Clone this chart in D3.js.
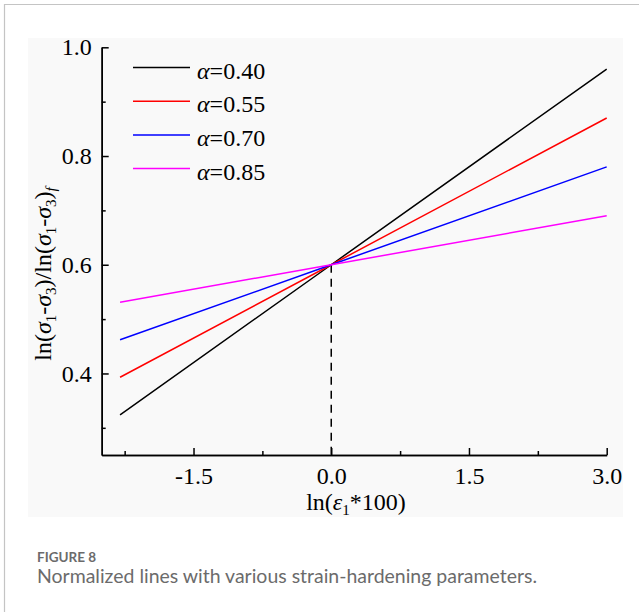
<!DOCTYPE html>
<html>
<head>
<meta charset="utf-8">
<script src="https://cdn.jsdelivr.net/npm/d3@7"></script>
<style>
	body { margin: 0; background: #fff; }
	svg { display: block; }
	.serif, .serif text { font-family: "Liberation Serif", "Times New Roman", serif; }
	.cap { font-family: Lato, "Open Sans", sans-serif; fill: #6b6b6b; }
</style>
</head>
<body>
<div class="canva"></div>
<script>
// values
const alphaLabels = ["0.40", "0.55", "0.70", "0.85"];
const lineColors = ["#000000", "#ff0000", "#0000ff", "#ff00ff"];
const xValues = [-2.3, 0.0, 3.0];
const yAlpha040 = [0.324, 0.6, 0.96];
const yAlpha055 = [0.393, 0.6, 0.87];
const yAlpha070 = [0.462, 0.6, 0.78];
const yAlpha085 = [0.531, 0.6, 0.69];
const xMajorTicks = [-1.5, 0.0, 1.5, 3.0];
const xMinorTicks = [-2.25, -0.75, 0.75, 2.25];
const yMajorTicks = [0.4, 0.6, 0.8, 1.0];
const yMinorTicks = [0.3, 0.5, 0.7, 0.9];

const series = [yAlpha040, yAlpha055, yAlpha070, yAlpha085];

const width = 639;
const height = 612;

const svg = d3
	.select(".canva")
	.append("svg")
	.attr("width", width)
	.attr("height", height);

// page frame + figure panel
svg.append("path")
	.attr("d", "M4.5,612V4.5H639")
	.attr("fill", "none")
	.attr("stroke", "#c4c4c4")
	.attr("stroke-width", 1.2);

svg.append("rect")
	.attr("x", 28)
	.attr("y", 38)
	.attr("width", 595)
	.attr("height", 479)
	.attr("fill", "#f9f9f9");

const x = d3.scaleLinear().domain([-2.5, 3.0]).range([101.7, 606.7]);
const y = d3.scaleLinear().domain([0.25, 1.0]).range([455, 47.3]);

// plain hyphen minus like the original
const fmt = (d) => d3.format(".1f")(d).replace("−", "-");

// axes (ticks point inward)
svg.append("g")
	.attr("class", "serif")
	.attr("transform", `translate(0,${y(0.25)})`)
	.call(d3.axisBottom(x).tickValues(xMajorTicks).tickSize(-7).tickSizeOuter(0).tickPadding(12)
		.tickFormat(fmt));

svg.append("g")
	.attr("transform", `translate(0,${y(0.25)})`)
	.call(d3.axisBottom(x).tickValues(xMinorTicks).tickSize(-4).tickSizeOuter(0).tickFormat(""));

svg.append("g")
	.attr("class", "serif")
	.attr("transform", `translate(${x(-2.5)},0)`)
	.call(d3.axisLeft(y).tickValues(yMajorTicks).tickSize(-7).tickSizeOuter(0).tickPadding(10)
		.tickFormat(fmt));

svg.append("g")
	.attr("transform", `translate(${x(-2.5)},0)`)
	.call(d3.axisLeft(y).tickValues(yMinorTicks).tickSize(-4).tickSizeOuter(0).tickFormat(""));

svg.selectAll(".domain, .tick line")
	.attr("stroke", "#000")
	.attr("stroke-width", 1.5);

svg.selectAll(".tick text")
	.style("font-family", "'Liberation Serif', 'Times New Roman', serif")
	.attr("font-size", 24)
	.attr("fill", "#000");

// dashed guide at x = 0
svg.append("line")
	.attr("x1", x(0)).attr("x2", x(0))
	.attr("y1", y(0.6)).attr("y2", y(0.25))
	.attr("stroke", "#000")
	.attr("stroke-width", 1.5)
	.attr("stroke-dasharray", "8,6");

// lines
const line = d3.line()
	.x((d, i) => x(xValues[i]))
	.y((d) => y(d));

svg.selectAll(".series")
	.data(series)
	.enter()
	.append("path")
	.attr("class", "series")
	.attr("d", (d) => line(d))
	.attr("fill", "none")
	.attr("stroke", (d, i) => lineColors[i])
	.attr("stroke-width", 1.5);

// legend
const legend = svg.append("g").attr("class", "serif");
const legendItem = legend.selectAll("g")
	.data(alphaLabels)
	.enter()
	.append("g")
	.attr("transform", (d, i) => `translate(0,${67.5 + i * 33.7})`);

legendItem.append("line")
	.attr("x1", 133).attr("x2", 190)
	.attr("stroke", (d, i) => lineColors[i])
	.attr("stroke-width", 1.5);

const legendText = legendItem.append("text")
	.attr("x", 197)
	.attr("y", 11)
	.attr("font-size", 24);
legendText.append("tspan").attr("font-style", "italic").text("α");
legendText.append("tspan").text((d) => "=" + d);

// axis titles
const xTitle = svg.append("text")
	.attr("class", "serif")
	.attr("x", 356)
	.attr("y", 510)
	.attr("text-anchor", "middle")
	.attr("font-size", 24);
xTitle.append("tspan").text("ln(");
xTitle.append("tspan").attr("font-style", "italic").text("ε");
xTitle.append("tspan").attr("font-size", 15).attr("dy", 5).text("1");
xTitle.append("tspan").attr("dy", -5).text("*100)");

const yTitle = svg.append("text")
	.attr("class", "serif")
	.attr("transform", "translate(51,274) rotate(-90)")
	.attr("text-anchor", "middle")
	.attr("font-size", 24);

function sigmaPair(t) {
	t.append("tspan").attr("font-style", "italic").text("σ");
	t.append("tspan").attr("font-size", 15).attr("dy", 5).text("1");
	t.append("tspan").attr("dy", -5).text("-");
	t.append("tspan").attr("font-style", "italic").text("σ");
	t.append("tspan").attr("font-size", 15).attr("dy", 5).text("3");
}
yTitle.append("tspan").text("ln(");
sigmaPair(yTitle);
yTitle.append("tspan").attr("dy", -5).text(")/ln(");
sigmaPair(yTitle);
yTitle.append("tspan").attr("dy", -5).text(")");
yTitle.append("tspan").attr("font-size", 15).attr("font-style", "italic").attr("dy", 5).text("f");

// caption
svg.append("text")
	.attr("class", "cap")
	.attr("x", 37)
	.attr("y", 562)
	.attr("font-size", 13.5)
	.attr("font-weight", 700)
	.text("FIGURE 8");

svg.append("text")
	.attr("class", "cap")
	.attr("x", 37)
	.attr("y", 583)
	.attr("font-size", 19)
	.attr("font-weight", 400)
	.attr("textLength", 500)
	.attr("lengthAdjust", "spacingAndGlyphs")
	.text("Normalized lines with various strain-hardening parameters.");
</script>
</body>
</html>
